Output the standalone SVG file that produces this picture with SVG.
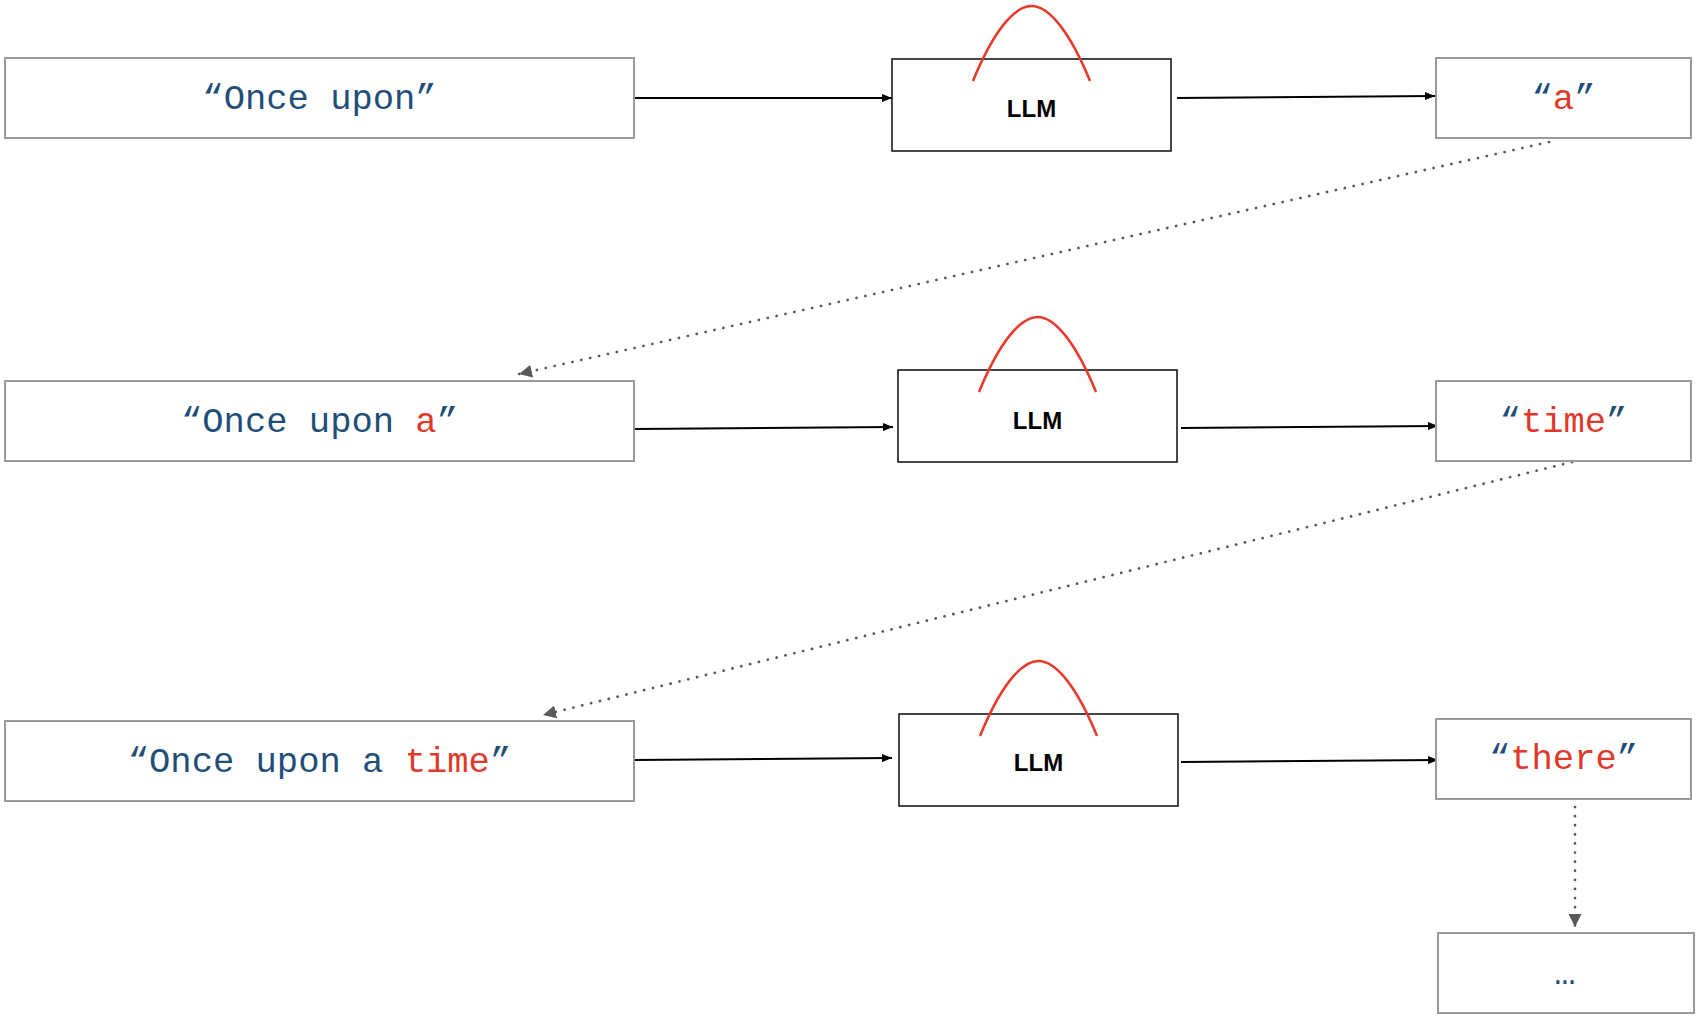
<svg xmlns="http://www.w3.org/2000/svg" width="1698" height="1020" viewBox="0 0 1698 1020">
<style>
.tbox{fill:#fff;stroke:#9a9a9a;stroke-width:2}
.llm{fill:#fff;stroke:#1a1a1a;stroke-width:1.6}
.tok{font-family:"Liberation Mono","Courier New",monospace;font-size:35.5px;fill:#1f4e79;text-anchor:middle}
.red{fill:#e0392b}
.lbl{font-family:"Liberation Sans",Arial,sans-serif;font-weight:bold;font-size:24px;fill:#000;text-anchor:middle}
.bell{fill:none;stroke:#e8392a;stroke-width:2.5}
.solid{fill:none;stroke:#000;stroke-width:2;marker-end:url(#ah)}
.dot{fill:none;stroke:#555;stroke-width:2.7;stroke-linecap:round;stroke-dasharray:0.1 9;marker-end:url(#dh)}
</style>
<defs>
<marker id="ah" viewBox="0 0 10 8" refX="10" refY="4" markerWidth="10" markerHeight="8" markerUnits="userSpaceOnUse" orient="auto">
<path d="M0,0 L10,4 L0,8 Z" fill="#000"/>
</marker>
<marker id="dh" viewBox="0 0 13 13" refX="13" refY="6.5" markerWidth="13" markerHeight="13" markerUnits="userSpaceOnUse" orient="auto">
<path d="M0,0 L13,6.5 L0,13 Z" fill="#5a5a5a"/>
</marker>
<path id="bellp" class="bell" d="M81,22 C101,-27 122,-53 139.5,-53 C157,-53 178,-27 198,22"/>
</defs>

<g id="connectors">
<line class="solid" x1="635" y1="98" x2="892" y2="98"/>
<line class="solid" x1="1177" y1="98" x2="1435" y2="96"/>
<line class="dot" x1="1549" y1="142" x2="519" y2="374"/>
<line class="solid" x1="635" y1="429" x2="893" y2="427"/>
<line class="solid" x1="1181" y1="428" x2="1438" y2="426"/>
<line class="dot" x1="1572" y1="462" x2="543" y2="715"/>
<line class="solid" x1="635" y1="760" x2="892" y2="758"/>
<line class="solid" x1="1181" y1="762" x2="1438" y2="760"/>
<line class="dot" x1="1575" y1="807" x2="1575" y2="927"/>
</g>

<g id="n-input1">
<rect class="tbox" x="5" y="58" width="629" height="80"/>
<text class="tok" x="319.5" y="108.5">“Once upon”</text>
</g>
<g id="n-llm1">
<rect class="llm" x="892" y="59" width="279" height="92"/>
<use href="#bellp" x="892" y="59"/>
<text class="lbl" x="1031.5" y="117">LLM</text>
</g>
<g id="n-out1">
<rect class="tbox" x="1436" y="58" width="255" height="80"/>
<text class="tok" x="1563.5" y="108.5">“<tspan class="red">a</tspan>”</text>
</g>

<g id="n-input2">
<rect class="tbox" x="5" y="381" width="629" height="80"/>
<text class="tok" x="319.5" y="431.5">“Once upon <tspan class="red">a</tspan>”</text>
</g>
<g id="n-llm2">
<rect class="llm" x="898" y="370" width="279" height="92"/>
<use href="#bellp" x="898" y="370"/>
<text class="lbl" x="1037.5" y="429">LLM</text>
</g>
<g id="n-out2">
<rect class="tbox" x="1436" y="381" width="255" height="80"/>
<text class="tok" x="1563.5" y="431.5">“<tspan class="red">time</tspan>”</text>
</g>

<g id="n-input3">
<rect class="tbox" x="5" y="721" width="629" height="80"/>
<text class="tok" x="319.5" y="771.5">“Once upon a <tspan class="red">time</tspan>”</text>
</g>
<g id="n-llm3">
<rect class="llm" x="899" y="714" width="279" height="92"/>
<use href="#bellp" x="899" y="714"/>
<text class="lbl" x="1038.5" y="771">LLM</text>
</g>
<g id="n-out3">
<rect class="tbox" x="1436" y="719" width="255" height="80"/>
<text class="tok" x="1563.5" y="769">“<tspan class="red">there</tspan>”</text>
</g>

<g id="n-more">
<rect class="tbox" x="1438" y="933" width="256" height="80"/>
<text class="tok" x="1565" y="984">…</text>
</g>
</svg>
